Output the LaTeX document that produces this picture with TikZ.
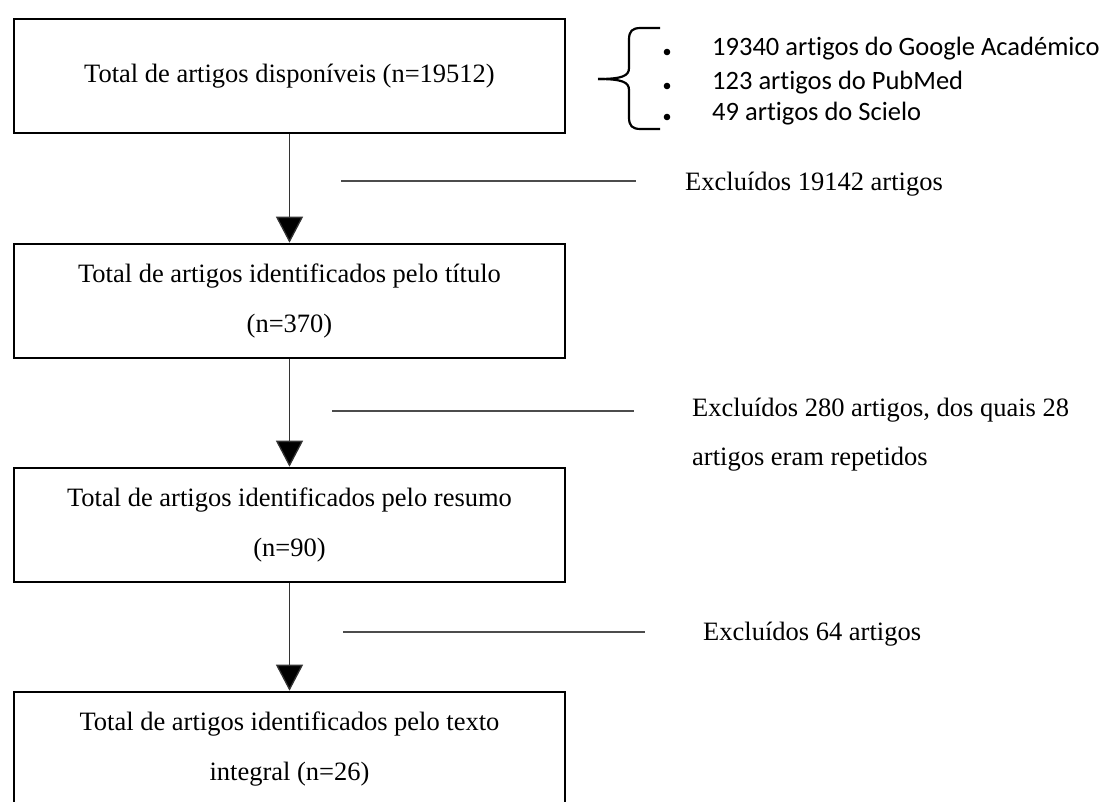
\documentclass[tikz,border=0pt]{standalone}
\usepackage{fontspec}
\setmainfont{Liberation Serif}
\newfontfamily\calfont[Ligatures={NoCommon}]{Carlito}
\usetikzlibrary{arrows.meta}
\begin{document}
\begin{tikzpicture}[x=1pt,y=-1pt,
  stagebox/.style={draw, line width=2.6pt, minimum width=551pt, minimum height=114pt,
    align=center, inner sep=0pt, font=\fontsize{26.5}{50}\selectfont},
  exctext/.style={anchor=west, align=left, inner sep=0pt,
    font=\fontsize{26.5}{49}\selectfont},
  srctext/.style={anchor=west, inner sep=0pt, text height=0.75em, text depth=0.25em,
    font=\calfont\fontsize{26.5}{30}\selectfont},
  flow/.style={line width=1.3pt, draw=black!80, -{Triangle[width=27pt,length=26pt,fill=black]}},
  excline/.style={line width=1.6pt, draw=black!70},
  bracestyle/.style={line width=2.2pt, line join=round}]
\useasboundingbox (0,0) rectangle (1101,801);
\clip (0,0) rectangle (1101,801);
\fill[white] (0,0) rectangle (1101,801);

% boxes
\node[stagebox] (b1) at (289.5,76) {Total de artigos disponíveis (n=19512)};
\node[stagebox] (b2) at (289.5,301) {Total de artigos identificados pelo título\\(n=370)};
\node[stagebox] (b3) at (289.5,525) {Total de artigos identificados pelo resumo\\(n=90)};
\node[stagebox] (b4) at (289.5,749) {Total de artigos identificados pelo texto\\integral (n=26)};

% arrows
\draw[flow] (b1.south) -- (b2.north);
\draw[flow] (b2.south) -- (b3.north);
\draw[flow] (b3.south) -- (b4.north);

% exclusion lines
\coordinate (l1a) at (341,181);
\coordinate (l1b) at (636,181);
\coordinate (l2a) at (332,411);
\coordinate (l2b) at (634,411);
\coordinate (l3a) at (343,632);
\coordinate (l3b) at (645,632);
\draw[excline] (l1a) -- (l1b);
\draw[excline] (l2a) -- (l2b);
\draw[excline] (l3a) -- (l3b);

% exclusion texts
\node[exctext] (e1) at (685,184) {Excluídos 19142 artigos};
\node[exctext] (e2) at (692,435) {Excluídos 280 artigos, dos quais 28\\artigos eram repetidos};
\node[exctext] (e3) at (703,634) {Excluídos 64 artigos};

% brace
\draw[bracestyle] (660,28) -- (641,28) .. controls (632,28) and (629,31) .. (629,40)
  -- (629,68) .. controls (629,76) and (622,79) .. (598,79);
\draw[bracestyle] (660,129) -- (641,129) .. controls (632,129) and (629,126) .. (629,117)
  -- (629,90) .. controls (629,82) and (622,79) .. (598,79);

% bullets and sources
\fill (667,52) circle (3.3pt);
\fill (667,86) circle (3.3pt);
\fill (667,117) circle (3.3pt);
\node[srctext] (s1) at (712,53) {19340 artigos do Google Académico};
\node[srctext] (s2) at (712,87) {123 artigos do PubMed};
\node[srctext] (s3) at (712,118) {49 artigos do Scielo};
\end{tikzpicture}
\end{document}
